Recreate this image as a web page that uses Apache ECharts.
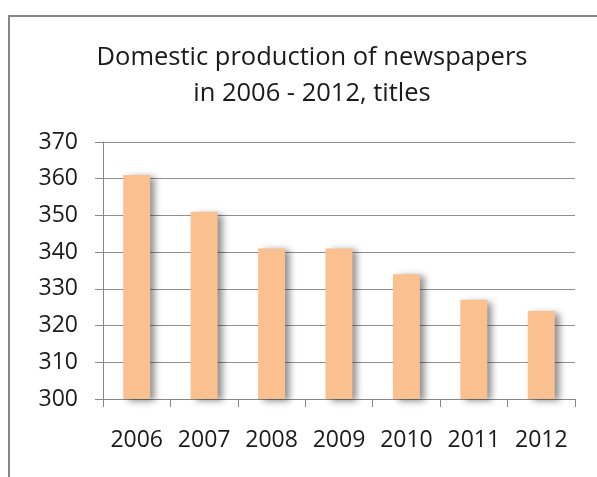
<!DOCTYPE html>
<html>
<head>
<meta charset="utf-8">
<script src="https://cdn.jsdelivr.net/npm/echarts@6/dist/echarts.min.js"></script>
<style>html,body{margin:0;padding:0;background:#fff}#c{width:597px;height:477px}</style>
</head>
<body>
<div id="c"></div>
<script>
const titleText = "Domestic production of newspapers\nin 2006 - 2012, titles";
const years = ["2006", "2007", "2008", "2009", "2010", "2011", "2012"];
const titles = [361, 351, 341, 341, 334, 327, 324];

const chart = echarts.init(document.getElementById('c'), null, {renderer: 'canvas'});
const font = "'Open Sans', sans-serif";
chart.setOption({
  animation: false,
  backgroundColor: '#fff',
  graphic: [{
    type: 'polyline',
    shape: {points: [[9, 480], [9, 16], [600, 16]]},
    style: {stroke: '#878787', lineWidth: 2, fill: null},
    silent: true
  }],
  title: {
    text: titleText,
    left: 307,
    textAlign: 'center',
    top: 35,
    textStyle: {fontFamily: font, fontSize: 25.5, fontWeight: 'normal', color: '#1a1a1a', lineHeight: 36}
  },
  grid: {left: 103, right: 22, top: 142, bottom: 78, containLabel: false},
  xAxis: {
    type: 'category',
    data: years,
    axisLine: {lineStyle: {color: '#878787', width: 1}},
    axisTick: {show: true, length: 8, interval: 0, lineStyle: {color: '#878787'}},
    axisLabel: {fontFamily: font, fontSize: 23, color: '#1a1a1a', margin: 30, interval: 0, hideOverlap: false}
  },
  yAxis: {
    type: 'value',
    min: 300, max: 370, interval: 10,
    axisLine: {show: true, lineStyle: {color: '#878787', width: 1}},
    axisTick: {show: true, length: 8, lineStyle: {color: '#878787'}},
    splitLine: {lineStyle: {color: '#8f8f8f', width: 1}},
    axisLabel: {fontFamily: font, fontSize: 23, color: '#1a1a1a', margin: 25}
  },
  series: [{
    type: 'bar',
    data: titles,
    barWidth: '40%',
    itemStyle: {
      color: '#fac08f',
      shadowColor: 'rgba(0,0,0,0.45)',
      shadowBlur: 7,
      shadowOffsetX: 5,
      shadowOffsetY: 2
    }
  }]
});
</script>
</body>
</html>
